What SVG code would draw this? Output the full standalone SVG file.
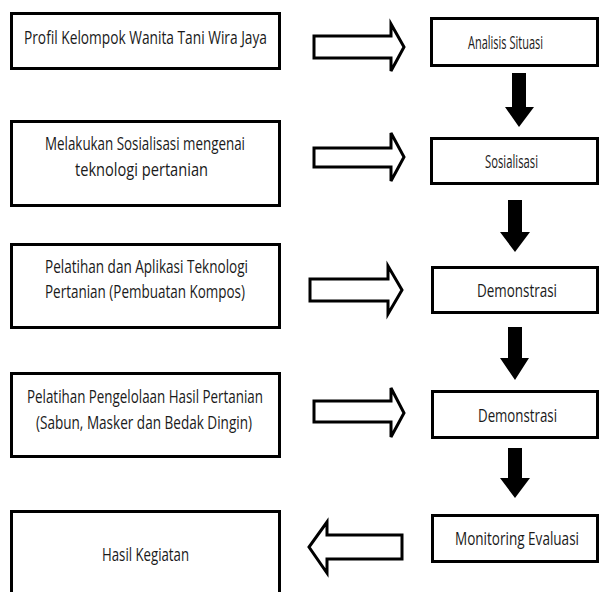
<svg xmlns="http://www.w3.org/2000/svg" width="600" height="592" viewBox="0 0 600 592">
<style>
.box{fill:#fff;stroke:#000;stroke-width:3}
.t{font-family:"Open Sans","Liberation Sans",sans-serif;font-size:18px;fill:#1a1a1a}
.ha{fill:#fff;stroke:#000;stroke-width:3;stroke-linejoin:miter}
.da{fill:#000}
</style>
<rect width="600" height="592" fill="#fff"/>
<g id="n-profil"><rect class="box" x="11.5" y="13.5" width="268" height="55"/><text class="t" x="24" y="44" textLength="243" lengthAdjust="spacingAndGlyphs">Profil Kelompok Wanita Tani Wira Jaya</text></g>
<g id="n-melakukan"><rect class="box" x="11.5" y="121.5" width="268" height="84"/><text class="t" x="45" y="150" textLength="200" lengthAdjust="spacingAndGlyphs">Melakukan Sosialisasi mengenai</text><text class="t" x="75" y="176" textLength="133" lengthAdjust="spacingAndGlyphs">teknologi pertanian</text></g>
<g id="n-pelatihan1"><rect class="box" x="11.5" y="244.5" width="268" height="83"/><text class="t" x="45" y="273" textLength="203" lengthAdjust="spacingAndGlyphs">Pelatihan dan Aplikasi Teknologi</text><text class="t" x="45" y="298" textLength="200" lengthAdjust="spacingAndGlyphs">Pertanian (Pembuatan Kompos)</text></g>
<g id="n-pelatihan2"><rect class="box" x="11.5" y="373.5" width="268" height="83"/><text class="t" x="27" y="403" textLength="236" lengthAdjust="spacingAndGlyphs">Pelatihan Pengelolaan Hasil Pertanian</text><text class="t" x="36" y="429" textLength="216" lengthAdjust="spacingAndGlyphs">(Sabun, Masker dan Bedak Dingin)</text></g>
<g id="n-hasil"><rect class="box" x="11.5" y="511.5" width="268" height="100"/><text class="t" x="102" y="561" textLength="87" lengthAdjust="spacingAndGlyphs">Hasil Kegiatan</text></g>
<g id="n-analisis"><rect class="box" x="431.5" y="18.5" width="166" height="47"/><text class="t" x="468" y="49" textLength="75" lengthAdjust="spacingAndGlyphs">Analisis Situasi</text></g>
<g id="n-sosialisasi"><rect class="box" x="431.5" y="138.5" width="166" height="45"/><text class="t" x="485" y="168" textLength="53" lengthAdjust="spacingAndGlyphs">Sosialisasi</text></g>
<g id="n-demo1"><rect class="box" x="432.5" y="267.5" width="165" height="45"/><text class="t" x="477" y="297" textLength="80" lengthAdjust="spacingAndGlyphs">Demonstrasi</text></g>
<g id="n-demo2"><rect class="box" x="432.5" y="391.5" width="165" height="46"/><text class="t" x="478" y="422" textLength="79" lengthAdjust="spacingAndGlyphs">Demonstrasi</text></g>
<g id="n-monitoring"><rect class="box" x="432.5" y="515.5" width="165" height="46"/><text class="t" x="455" y="545" textLength="124" lengthAdjust="spacingAndGlyphs">Monitoring Evaluasi</text></g>
<g id="connectors">
<polygon class="ha" points="314,36 391,36 391,24 404,47 391,71 391,58 314,58"/>
<polygon class="ha" points="314,148 391,148 391,133 404,157 391,181 391,167 314,167"/>
<polygon class="ha" points="310,279 388,279 388,266 402,290 388,314 388,301 310,301"/>
<polygon class="ha" points="314,401 391,401 391,388 404,413 391,437 391,422 314,422"/>
<polygon class="ha" points="402,535 327,535 327,522 309,547 327,573 327,559 402,559"/>
<polygon class="da" points="512,73 526,73 526,107 534,107 519,127 505,107 512,107"/>
<polygon class="da" points="508,200 522,200 522,232 530,232 515,252 500,232 508,232"/>
<polygon class="da" points="508,327 522,327 522,358 529,358 515,380 500,358 508,358"/>
<polygon class="da" points="508,448 522,448 522,478 530,478 515,498 500,478 508,478"/>
</g>
</svg>
